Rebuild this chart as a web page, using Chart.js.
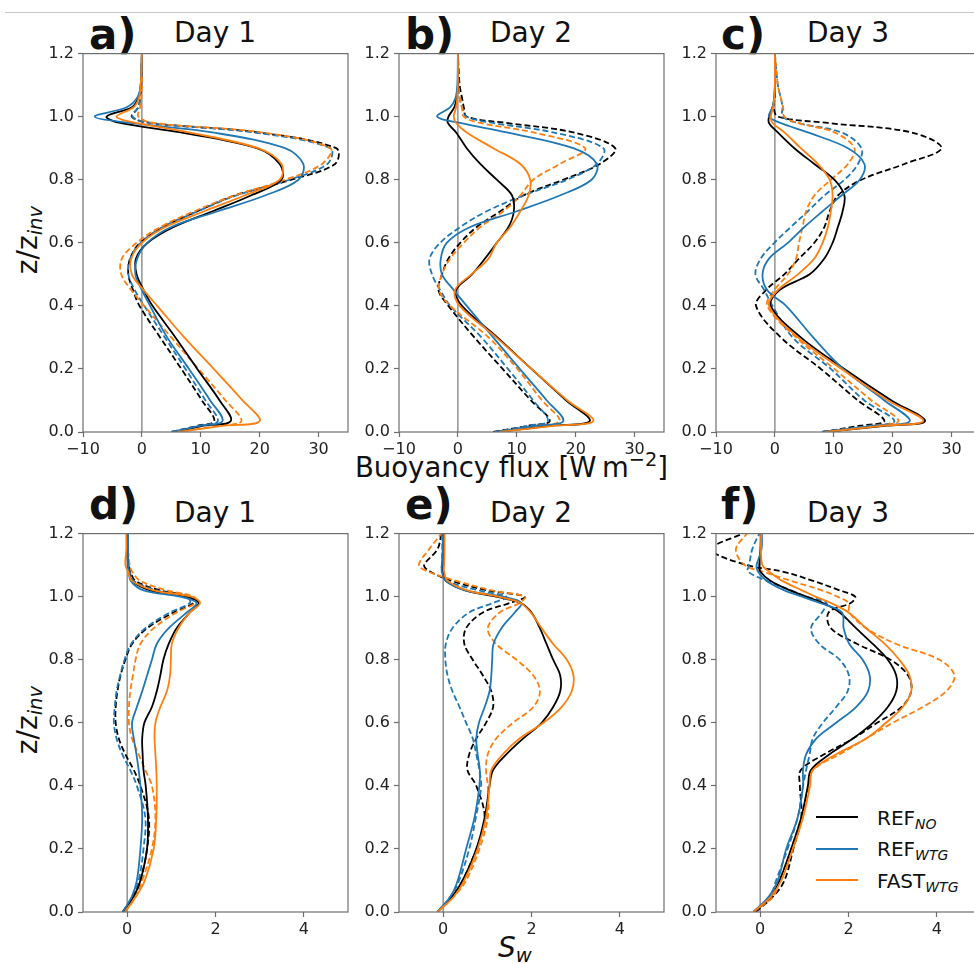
<!DOCTYPE html>
<html>
<head>
<meta charset="utf-8">
<script src="https://cdn.jsdelivr.net/npm/chart.js@4.4.0/dist/chart.umd.min.js"></script>
<style>
  html, body { margin: 0; padding: 0; width: 974px; height: 964px; overflow: hidden; background: #fff; }
  body { position: relative; font-family: "DejaVu Sans", sans-serif; color: #111; }
  canvas { position: absolute; }
  .topline { position: absolute; left: 5px; right: 0; top: 12px; height: 0; border-top: 1px solid #c8c8c8; }
  .tag { position: absolute; font-weight: bold; font-size: 42px; line-height: 1; white-space: nowrap; }
  .day { position: absolute; font-size: 28px; line-height: 1; white-space: nowrap; transform: translateX(-50%); }
  .label { position: absolute; font-size: 27.5px; line-height: 1; white-space: nowrap; }
  .ylab { position: absolute; font-size: 28px; line-height: 1; white-space: nowrap; transform: translate(-50%, -50%) rotate(-90deg); }
  sub { font-size: 0.7em; font-style: italic; vertical-align: -0.25em; }
  sup { font-size: 0.7em; vertical-align: 0.55em; }
  .leg-line { position: absolute; left: 816px; width: 42px; height: 2px; }
  .leg-text { position: absolute; left: 877px; font-size: 20px; line-height: 1; white-space: nowrap; }
</style>
</head>
<body>
<div class="topline"></div>

<div class="tag" style="left:89px;top:14px">a)</div>
<div class="tag" style="left:405px;top:14px">b)</div>
<div class="tag" style="left:721px;top:14px">c)</div>
<div class="tag" style="left:89px;top:484px">d)</div>
<div class="tag" style="left:405px;top:484px">e)</div>
<div class="tag" style="left:721px;top:484px">f)</div>

<div class="day" style="left:215px;top:19px">Day 1</div>
<div class="day" style="left:531px;top:19px">Day 2</div>
<div class="day" style="left:848px;top:19px">Day 3</div>
<div class="day" style="left:215px;top:499px">Day 1</div>
<div class="day" style="left:531px;top:499px">Day 2</div>
<div class="day" style="left:848px;top:499px">Day 3</div>

<div class="ylab" style="left:30px;top:240px">z/z<sub>inv</sub></div>
<div class="ylab" style="left:30px;top:720px">z/z<sub>inv</sub></div>
<div class="label" style="left:355px;top:450px">Buoyancy flux [W&#8201;m<sup>&minus;2</sup>]</div>
<div class="label" style="left:498px;top:934px;font-size:28px"><i>S</i><sub>w</sub></div>

<div class="leg-line" style="top:816px;background:#000000"></div>
<div class="leg-line" style="top:848px;background:#1f77b4"></div>
<div class="leg-line" style="top:879px;background:#ff7f0e"></div>
<div class="leg-text" style="top:808px">REF<sub>NO</sub></div>
<div class="leg-text" style="top:839px">REF<sub>WTG</sub></div>
<div class="leg-text" style="top:871px">FAST<sub>WTG</sub></div>

<script>
// heights (z/z_inv) at which the profiles were read
const zTop = [0, 0.02, 0.035, 0.1, 0.2, 0.3, 0.4, 0.45, 0.5, 0.55, 0.6, 0.65, 0.7, 0.75, 0.8, 0.85, 0.9, 0.95, 0.98, 1.0, 1.03, 1.06, 1.1, 1.2];
const zBottom = [0, 0.05, 0.1, 0.2, 0.3, 0.4, 0.45, 0.5, 0.55, 0.6, 0.65, 0.7, 0.75, 0.8, 0.85, 0.9, 0.95, 0.98, 1.0, 1.02, 1.05, 1.08, 1.1, 1.15, 1.2];

const fluxTicks = [-10, 0, 10, 20, 30];
const swTicks = [0, 2, 4];
const zTicks = [0, 0.2, 0.4, 0.6, 0.8, 1.0, 1.2];

const zeroLineX = [0, 0];
const zeroLineZ = [0, 1.2];

// a) buoyancy flux, day 1 (solid and dashed "D")
const aRefNo    = [5.5, 10.5, 15.1, 13.2, 9.4, 5.7, 1.8, 0.3, -0.9, -1.0, 1.0, 5.4, 12.0, 18.5, 23.7, 23.4, 19.5, 6.6, -3.7, -6.0, -1.7, -0.6, -0.2, 0];
const aRefWtg   = [5.0, 10.0, 13.7, 11.6, 8.0, 4.3, 1.4, 0.0, -1.1, -0.8, 0.9, 5.0, 12.9, 20.9, 26.6, 27.4, 24.3, 12.0, -2.0, -8.0, -2.6, -0.8, -0.2, 0];
const aFastWtg  = [6.0, 14.0, 20.0, 17.1, 12.2, 7.2, 2.6, 0.3, -1.7, -1.8, 0.0, 4.0, 10.6, 17.4, 23.4, 23.7, 19.7, 8.0, -1.0, -4.3, -1.4, -0.5, -0.2, 0];
const aRefNoD   = [5.0, 9.5, 12.3, 10.2, 6.7, 3.1, -0.4, -1.5, -2.3, -2.0, -0.3, 3.7, 9.4, 15.7, 25.4, 32.8, 33.0, 19.7, 1.4, -1.7, -0.6, -0.3, -0.1, 0];
const aRefWtgD  = [5.0, 10.0, 12.9, 10.8, 7.4, 3.9, 0.4, -1.2, -2.3, -2.0, -0.2, 3.5, 9.5, 16.0, 25.0, 31.5, 32.0, 19.0, 1.5, -1.6, -0.6, -0.3, -0.1, 0];
const aFastWtgD = [6.0, 13.0, 16.9, 14.2, 9.6, 5.0, 0.4, -1.8, -3.5, -3.4, -0.9, 3.1, 8.9, 15.7, 24.3, 30.6, 32.0, 20.3, 2.0, -0.6, -0.3, -0.1, 0, 0];

// b) buoyancy flux, day 2
const bRefNo    = [6.6, 16.0, 22.4, 18.4, 12.5, 6.7, 0.7, -0.3, 2.4, 4.6, 6.6, 8.6, 9.5, 9.2, 6.6, 3.8, 1.5, -0.3, -1.7, -1.6, -0.6, -0.2, 0, 0];
const bRefWtg   = [6.3, 13.5, 17.9, 15.1, 10.5, 6.0, 1.5, -0.7, -2.7, -2.9, -1.9, 2.1, 10.0, 17.3, 22.7, 23.6, 19.6, 8.3, 0.4, -3.5, -1.3, -0.4, -0.1, 0];
const bFastWtg  = [7.0, 16.5, 23.0, 18.6, 12.5, 6.5, 0.3, -0.5, 2.3, 5.2, 6.6, 8.9, 10.6, 12.0, 12.3, 10.6, 6.0, 1.5, -0.3, -0.7, -0.3, -0.1, 0, 0];
const bRefNoD   = [6.0, 12.0, 15.6, 12.4, 7.6, 2.8, -1.6, -3.3, -2.7, -1.6, 0.4, 3.2, 7.2, 11.1, 17.9, 24.1, 26.7, 19.6, 8.3, 1.5, 1.0, 0.7, 0.3, 0];
const bRefWtgD  = [6.3, 12.0, 15.3, 12.8, 8.5, 4.0, -1.3, -3.0, -4.4, -4.8, -3.0, 0.4, 4.9, 11.1, 18.5, 23.6, 24.7, 16.2, 6.0, 1.5, 0.7, 0.3, 0.1, 0];
const bFastWtgD = [7.0, 13.5, 17.3, 14.3, 10.1, 5.2, -1.3, -3.2, -2.7, -1.3, 1.0, 3.8, 7.7, 10.6, 12.8, 17.3, 21.6, 12.8, 3.8, 1.0, 0.7, 0.3, 0.1, 0];

// c) buoyancy flux, day 3
const cRefNo    = [8.5, 19.0, 25.5, 19.8, 11.8, 4.4, -0.7, 0.8, 5.9, 8.4, 9.8, 10.7, 11.5, 11.8, 10.1, 6.7, 3.3, 0.5, -1.0, -1.0, -0.4, -0.1, 0, 0];
const cRefWtg   = [8.0, 17.0, 22.9, 18.6, 11.6, 6.5, 1.9, -1.3, -2.1, -1.0, 2.2, 5.0, 8.1, 11.3, 14.4, 15.2, 12.4, 5.6, 1.0, -1.0, -0.4, -0.1, 0, 0];
const cFastWtg  = [8.5, 18.5, 25.2, 19.2, 11.3, 3.9, -1.0, 0.5, 3.9, 6.7, 8.1, 9.0, 9.5, 9.8, 9.3, 7.3, 4.4, 1.6, -0.4, -0.7, -0.3, -0.1, 0, 0];
const cRefNoD   = [8.0, 14.5, 18.6, 14.1, 7.8, 1.0, -3.2, -1.5, 1.6, 4.1, 6.7, 8.4, 9.3, 10.7, 14.7, 22.0, 28.3, 23.2, 9.0, 0.5, -0.2, 0, 0, 0];
const cRefWtgD  = [8.0, 16.0, 20.3, 15.2, 9.5, 3.0, -0.4, -1.8, -3.3, -2.4, -0.1, 2.7, 5.6, 8.4, 11.8, 14.1, 14.7, 11.3, 3.9, 1.3, 1.3, 1.0, 0.5, 0];
const cFastWtgD = [8.5, 16.5, 21.0, 16.4, 10.1, 3.6, -1.3, -0.1, 2.2, 3.6, 4.1, 4.7, 5.3, 6.7, 9.5, 12.4, 13.5, 10.1, 3.9, 1.6, 1.4, 1.0, 0.5, 0];

// d) S_w, day 1
const dRefNo    = [-0.1, 0.15, 0.3, 0.45, 0.47, 0.42, 0.37, 0.35, 0.34, 0.39, 0.56, 0.67, 0.75, 0.82, 0.94, 1.12, 1.42, 1.62, 1.35, 0.52, 0.11, 0.04, 0.02, 0, 0];
const dRefWtg   = [-0.1, 0.11, 0.22, 0.3, 0.34, 0.3, 0.26, 0.21, 0.15, 0.11, 0.22, 0.34, 0.45, 0.56, 0.67, 0.94, 1.35, 1.57, 1.2, 0.37, 0.08, 0.04, 0.02, 0.02, 0.02];
const dFastWtg  = [-0.05, 0.2, 0.4, 0.6, 0.66, 0.67, 0.66, 0.64, 0.62, 0.64, 0.75, 0.9, 0.97, 0.99, 1.01, 1.16, 1.42, 1.65, 1.45, 0.6, 0.11, 0.02, -0.04, -0.02, -0.02];
const dRefNoD   = [-0.1, 0.15, 0.3, 0.45, 0.49, 0.3, 0.15, -0.04, -0.19, -0.26, -0.26, -0.22, -0.15, -0.04, 0.11, 0.45, 1.05, 1.5, 1.42, 0.75, 0.19, 0.07, 0.04, 0, 0];
const dRefWtgD  = [-0.1, 0.12, 0.26, 0.37, 0.41, 0.22, 0.07, -0.11, -0.24, -0.3, -0.28, -0.24, -0.16, -0.06, 0.09, 0.41, 0.97, 1.42, 1.35, 0.67, 0.15, 0.06, 0.04, 0.02, 0.02];
const dFastWtgD = [-0.05, 0.2, 0.34, 0.56, 0.64, 0.56, 0.41, 0.26, 0.11, 0.04, 0.04, 0.07, 0.13, 0.19, 0.3, 0.6, 1.12, 1.54, 1.5, 0.9, 0.3, 0.11, 0.06, 0.02, 0.02];

// e) S_w, day 2
const eRefNo    = [-0.13, 0.21, 0.44, 0.75, 0.94, 1.05, 1.13, 1.43, 1.81, 2.23, 2.49, 2.65, 2.65, 2.49, 2.34, 2.19, 2.0, 1.75, 1.2, 0.5, 0.06, 0, 0, 0.01, 0.01];
const eRefWtg   = [-0.13, 0.17, 0.33, 0.52, 0.71, 0.82, 0.83, 0.78, 0.75, 0.81, 0.94, 1.05, 1.09, 1.11, 1.14, 1.32, 1.62, 1.77, 1.35, 0.5, 0.06, -0.03, -0.03, -0.01, -0.01];
const eFastWtg  = [-0.13, 0.25, 0.48, 0.78, 0.97, 1.05, 1.09, 1.35, 1.73, 2.27, 2.68, 2.91, 2.95, 2.8, 2.49, 2.23, 1.98, 1.75, 1.25, 0.55, 0.1, 0.02, 0.02, 0.03, 0.03];
const eRefNoD   = [-0.13, 0.21, 0.44, 0.75, 0.94, 0.75, 0.55, 0.59, 0.75, 0.97, 1.13, 1.09, 0.9, 0.67, 0.48, 0.52, 0.9, 1.51, 1.85, 1.0, 0.2, -0.3, -0.43, -0.13, -0.04];
const eRefWtgD  = [-0.13, 0.17, 0.36, 0.59, 0.74, 0.86, 0.82, 0.75, 0.67, 0.52, 0.37, 0.21, 0.1, 0.05, 0.06, 0.21, 0.59, 1.13, 1.43, 0.8, 0.1, -0.03, -0.03, -0.02, -0.02];
const eFastWtgD = [-0.13, 0.25, 0.52, 0.82, 1.01, 1.01, 0.97, 1.01, 1.2, 1.58, 2.04, 2.19, 2.04, 1.66, 1.2, 1.01, 1.28, 1.73, 1.85, 1.1, 0.3, -0.35, -0.55, -0.32, -0.04];

// f) S_w, day 3
const fRefNo    = [-0.15, 0.25, 0.44, 0.7, 0.93, 1.08, 1.15, 1.57, 2.1, 2.55, 2.89, 3.08, 3.08, 2.89, 2.55, 2.17, 1.8, 1.42, 1.05, 0.68, 0.24, 0.0, -0.02, 0.01, 0.02];
const fRefWtg   = [-0.15, 0.2, 0.4, 0.59, 0.85, 0.97, 0.97, 1.04, 1.27, 1.72, 2.17, 2.44, 2.48, 2.32, 2.02, 1.89, 1.85, 1.35, 0.95, 0.55, 0.15, -0.05, -0.08, 0.03, 0.04];
const fFastWtg  = [-0.15, 0.25, 0.48, 0.74, 0.97, 1.13, 1.19, 1.72, 2.4, 2.85, 3.23, 3.42, 3.38, 3.15, 2.82, 2.4, 2.0, 1.6, 1.25, 0.95, 0.5, 0.2, 0.05, 0.02, 0.02];
const fRefNoD   = [-0.1, 0.3, 0.55, 0.75, 0.93, 0.9, 0.92, 1.45, 2.1, 2.65, 3.2, 3.42, 3.35, 2.95, 2.2, 1.6, 1.55, 2.05, 2.15, 1.8, 1.2, 0.5, -0.3, -1.1, -0.4];
const fRefWtgD  = [-0.15, 0.22, 0.36, 0.62, 0.85, 0.97, 1.04, 1.12, 1.19, 1.42, 1.72, 1.98, 2.01, 1.8, 1.34, 1.15, 1.4, 1.5, 1.05, 0.7, 0.15, -0.28, -0.25, -0.18, -0.02];
const fFastWtgD = [-0.15, 0.3, 0.44, 0.7, 0.93, 1.11, 1.19, 1.8, 2.4, 3.0, 3.68, 4.21, 4.4, 4.06, 3.08, 2.4, 2.02, 2.0, 1.75, 1.4, 0.7, 0.05, -0.35, -0.55, -0.3];

const BLACK = "#000000", BLUE = "#1f77b4", ORANGE = "#ff7f0e", AXIS = "#6e6e6e";

const panels = [
  { z: zTop, xMin: -10, xMax: 35, xTicks: fluxTicks, left: 83, top: 50,
    solid: [aFastWtg, aRefWtg, aRefNo], dashed: [aFastWtgD, aRefWtgD, aRefNoD] },
  { z: zTop, xMin: -10, xMax: 35, xTicks: fluxTicks, left: 399, top: 50,
    solid: [bFastWtg, bRefWtg, bRefNo], dashed: [bFastWtgD, bRefWtgD, bRefNoD] },
  { z: zTop, xMin: -10, xMax: 35, xTicks: fluxTicks, left: 716, top: 50,
    solid: [cFastWtg, cRefWtg, cRefNo], dashed: [cFastWtgD, cRefWtgD, cRefNoD] },
  { z: zBottom, xMin: -1, xMax: 5, xTicks: swTicks, left: 83, top: 530,
    solid: [dFastWtg, dRefWtg, dRefNo], dashed: [dFastWtgD, dRefWtgD, dRefNoD] },
  { z: zBottom, xMin: -1, xMax: 5, xTicks: swTicks, left: 399, top: 530,
    solid: [eFastWtg, eRefWtg, eRefNo], dashed: [eFastWtgD, eRefWtgD, eRefNoD] },
  { z: zBottom, xMin: -1, xMax: 5, xTicks: swTicks, left: 716, top: 530,
    solid: [fFastWtg, fRefWtg, fRefNo], dashed: [fFastWtgD, fRefWtgD, fRefNoD] }
];

const lineColors = [ORANGE, BLUE, BLACK];

// box round the plot area, like matplotlib spines
const frame = {
  id: "frame",
  afterDatasetsDraw(chart) {
    const { ctx, chartArea: a } = chart;
    ctx.save();
    ctx.strokeStyle = AXIS;
    ctx.lineWidth = 1.2;
    ctx.strokeRect(a.left, a.top, a.right - a.left, a.bottom - a.top);
    ctx.restore();
  }
};

function profile(values, z, color, dashed) {
  return {
    data: z.map((zz, i) => ({ x: values[i], y: zz })),
    borderColor: color,
    borderWidth: 1.8,
    borderDash: dashed ? [6, 3] : [],
    showLine: true,
    pointRadius: 0,
    tension: 0.35,
    fill: false
  };
}

const tickFont = { family: "DejaVu Sans", size: 16 };
const minus = v => v < 0 ? "\u2212" + Math.abs(v) : String(v);

panels.forEach(p => {
  const canvas = document.createElement("canvas");
  canvas.width = 325;
  canvas.height = 422;
  canvas.style.left = (p.left - 50) + "px";
  canvas.style.top = (p.top - 10) + "px";
  document.body.appendChild(canvas);

  const datasets = [];
  p.solid.forEach((vals, i) => datasets.push(profile(vals, p.z, lineColors[i], false)));
  p.dashed.forEach((vals, i) => datasets.push(profile(vals, p.z, lineColors[i], true)));
  datasets.push({
    data: zeroLineX.map((x, i) => ({ x, y: zeroLineZ[i] })),
    borderColor: "#808080", borderWidth: 1.3, showLine: true, pointRadius: 0
  });

  new Chart(canvas, {
    type: "scatter",
    data: { datasets },
    options: {
      responsive: false,
      animation: false,
      devicePixelRatio: 1,
      layout: { padding: { top: 10, right: 10, left: 0, bottom: 0 } },
      plugins: { legend: { display: false }, tooltip: { enabled: false } },
      scales: {
        x: {
          type: "linear", min: p.xMin, max: p.xMax,
          afterBuildTicks: s => { s.ticks = p.xTicks.map(v => ({ value: v })); },
          afterFit: s => { s.height = 30; },
          ticks: { font: tickFont, color: "#222", padding: 3, maxRotation: 0, callback: minus },
          grid: { drawOnChartArea: false, drawTicks: true, tickLength: 5, color: AXIS, tickWidth: 1.2 },
          border: { display: false }
        },
        y: {
          type: "linear", min: 0, max: 1.2,
          afterBuildTicks: s => { s.ticks = zTicks.map(v => ({ value: v })); },
          afterFit: s => { s.width = 50; },
          ticks: { font: tickFont, color: "#222", padding: 4, callback: v => Number(v).toFixed(1) },
          grid: { drawOnChartArea: false, drawTicks: true, tickLength: 5, color: AXIS, tickWidth: 1.2 },
          border: { display: false }
        }
      }
    },
    plugins: [frame]
  });
});
</script>
</body>
</html>
